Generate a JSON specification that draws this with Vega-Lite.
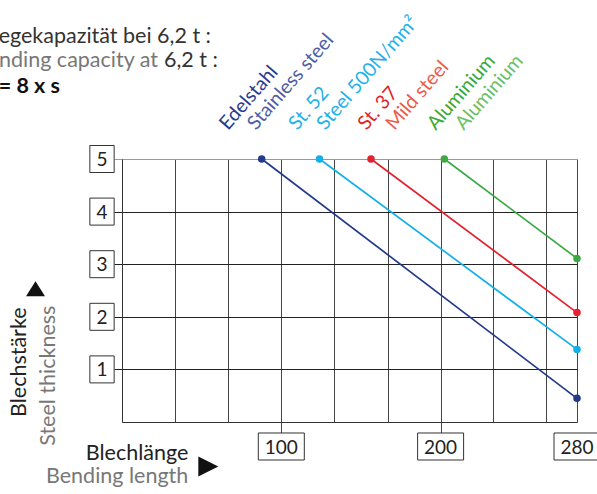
{
  "$schema": "https://vega.github.io/schema/vega-lite/v6.json",
  "width": 455,
  "height": 263,
  "autosize": {"type": "none"},
  "padding": {"left": 122, "top": 159, "right": 20, "bottom": 72},
  "config": {"view": {"stroke": null}, "font": "Lato", "text": {"font": "Lato"}},
  "datasets": {
    "lines": [
      {"material": "Edelstahl", "length": 87.7, "thickness": 5},
      {"material": "Edelstahl", "length": 280, "thickness": 0.45},
      {"material": "St. 52", "length": 124, "thickness": 5},
      {"material": "St. 52", "length": 280, "thickness": 1.38},
      {"material": "St. 37", "length": 156.3, "thickness": 5},
      {"material": "St. 37", "length": 280, "thickness": 2.08},
      {"material": "Aluminium", "length": 202.2, "thickness": 5},
      {"material": "Aluminium", "length": 280, "thickness": 3.11}
    ],
    "labels": [
      {"material": "Edelstahl", "de": "Edelstahl", "en": "Stainless steel"},
      {"material": "St. 52", "de": "St. 52", "en": "Steel 500N/mm²"},
      {"material": "St. 37", "de": "St. 37", "en": "Mild steel"},
      {"material": "Aluminium", "de": "Aluminium", "en": "Aluminium"}
    ],
    "yticks": [{"v": 1}, {"v": 2}, {"v": 3}, {"v": 4}, {"v": 5}],
    "xticks": [{"v": 100}, {"v": 200}, {"v": 280}]
  },
  "layer": [
    {
      "layer": [
        {
          "data": {"name": "lines"},
          "mark": {"type": "line", "strokeWidth": 1.7},
          "encoding": {
            "x": {
              "field": "length", "type": "quantitative",
              "scale": {"domain": [0, 200, 280], "range": [0, 318.6, 455], "nice": false, "zero": false},
              "axis": {
                "values": [0, 33.3, 66.7, 100, 133.3, 166.7, 200, 231, 262, 280],
                "grid": true, "gridColor": "#444", "gridWidth": 1, "gridOpacity": 1,
                "labels": false, "title": null, "tickSize": 11, "tickWidth": 1,
                "tickColor": {"condition": {"test": "datum.value == 100 || datum.value == 200", "value": "#444"}, "value": "rgba(0,0,0,0)"},
                "domainColor": "#333", "domainWidth": 1
              }
            },
            "y": {
              "field": "thickness", "type": "quantitative",
              "scale": {"domain": [0, 5], "nice": false},
              "axis": {
                "values": [1, 2, 3, 4, 5],
                "grid": true, "gridWidth": 1, "gridOpacity": 1,
                "gridColor": {"condition": {"test": "datum.value == 5", "value": "#999"}, "value": "#222"},
                "labels": false, "title": null, "tickSize": 8, "tickWidth": 1,
                "tickColor": {"condition": {"test": "datum.value == 5", "value": "#999"}, "value": "#222"},
                "domainColor": "#333", "domainWidth": 1
              }
            },
            "color": {
              "field": "material", "type": "nominal",
              "scale": {"domain": ["Edelstahl", "St. 52", "St. 37", "Aluminium"], "range": ["#233a8b", "#14afe9", "#e32230", "#3ea843"]},
              "legend": null
            },
            "detail": {"field": "material"}
          }
        },
        {
          "data": {"name": "lines"},
          "mark": {"type": "point", "filled": true, "size": 56, "opacity": 1, "shape": "circle"},
          "encoding": {
            "x": {"field": "length", "type": "quantitative"},
            "y": {"field": "thickness", "type": "quantitative"},
            "color": {"field": "material", "type": "nominal"}
          }
        },
        {
          "data": {"name": "yticks"},
          "mark": {"type": "point", "shape": "M-0.9,-1L0.9,-1L0.9,1L-0.9,1Z", "size": 729, "filled": true, "fill": "white", "stroke": "#333", "strokeWidth": 1, "opacity": 1, "xOffset": -20},
          "encoding": {"x": {"datum": 0}, "y": {"field": "v", "type": "quantitative"}}
        },
        {
          "data": {"name": "yticks"},
          "mark": {"type": "text", "fontSize": 19, "color": "#222", "align": "center", "baseline": "middle", "xOffset": -20, "yOffset": 1},
          "encoding": {"x": {"datum": 0}, "y": {"field": "v", "type": "quantitative"}, "text": {"field": "v"}}
        },
        {
          "data": {"name": "xticks"},
          "mark": {"type": "point", "shape": "M-1,-0.587L1,-0.587L1,0.587L-1,0.587Z", "size": 2116, "filled": true, "fill": "white", "stroke": "#333", "strokeWidth": 1, "opacity": 1, "yOffset": 24.5},
          "encoding": {"x": {"field": "v", "type": "quantitative"}, "y": {"datum": 0}}
        },
        {
          "data": {"name": "xticks"},
          "mark": {"type": "text", "fontSize": 19, "color": "#222", "align": "center", "baseline": "middle", "yOffset": 25.5},
          "encoding": {"x": {"field": "v", "type": "quantitative"}, "y": {"datum": 0}, "text": {"field": "v"}}
        },
        {
          "data": {"values": [{"t": "Biegekapazität bei 6,2 t :"}]},
          "mark": {"type": "text", "fontSize": 21.5, "color": "#333", "align": "right", "baseline": "alphabetic", "xOffset": 89, "yOffset": -115.7},
          "encoding": {"x": {"datum": 0}, "y": {"datum": 5}, "text": {"field": "t"}}
        },
        {
          "data": {"values": [{"t": "Bending capacity at"}]},
          "mark": {"type": "text", "fontSize": 21.5, "color": "#777", "align": "right", "baseline": "alphabetic", "xOffset": 36, "yOffset": -91.7},
          "encoding": {"x": {"datum": 0}, "y": {"datum": 5}, "text": {"field": "t"}}
        },
        {
          "data": {"values": [{"t": "6,2 t :"}]},
          "mark": {"type": "text", "fontSize": 21.5, "color": "#333", "align": "left", "baseline": "alphabetic", "xOffset": 42, "yOffset": -91.7},
          "encoding": {"x": {"datum": 0}, "y": {"datum": 5}, "text": {"field": "t"}}
        },
        {
          "data": {"values": [{"t": "V = 8 x s"}]},
          "mark": {"type": "text", "fontSize": 21.5, "fontWeight": "bold", "color": "#111", "align": "right", "baseline": "alphabetic", "xOffset": -62, "yOffset": -65.7},
          "encoding": {"x": {"datum": 0}, "y": {"datum": 5}, "text": {"field": "t"}}
        },
        {
          "data": {"values": [{"t": "Blechlänge"}]},
          "mark": {"type": "text", "fontSize": 21.5, "color": "#222", "align": "right", "baseline": "alphabetic", "xOffset": 66.3, "yOffset": 37.7},
          "encoding": {"x": {"datum": 0}, "y": {"datum": 0}, "text": {"field": "t"}}
        },
        {
          "data": {"values": [{"t": "Bending length"}]},
          "mark": {"type": "text", "fontSize": 21.5, "color": "#777", "align": "right", "baseline": "alphabetic", "xOffset": 66.3, "yOffset": 61},
          "encoding": {"x": {"datum": 0}, "y": {"datum": 0}, "text": {"field": "t"}}
        },
        {
          "data": {"values": [{"t": "Blechstärke"}]},
          "mark": {"type": "text", "fontSize": 21.5, "color": "#222", "angle": 270, "align": "center", "baseline": "alphabetic", "xOffset": -96, "yOffset": -59.8},
          "encoding": {"x": {"datum": 0}, "y": {"datum": 0}, "text": {"field": "t"}}
        },
        {
          "data": {"values": [{"t": "Steel thickness"}]},
          "mark": {"type": "text", "fontSize": 21.5, "color": "#777", "angle": 270, "align": "center", "baseline": "alphabetic", "xOffset": -67, "yOffset": -46.3},
          "encoding": {"x": {"datum": 0}, "y": {"datum": 0}, "text": {"field": "t"}}
        },
        {
          "data": {"values": [{"axis": "Blechlänge"}]},
          "mark": {"type": "point", "shape": "M-1,-1L1,0L-1,1Z", "size": 400, "filled": true, "fill": "#111", "strokeWidth": 0, "opacity": 1, "xOffset": 86.3, "yOffset": 44.4},
          "encoding": {"x": {"datum": 0}, "y": {"datum": 0}}
        },
        {
          "data": {"values": [{"axis": "Blechstärke"}]},
          "mark": {"type": "point", "shape": "M0,-0.79L1,0.79L-1,0.79Z", "size": 361, "filled": true, "fill": "#111", "strokeWidth": 0, "opacity": 1, "xOffset": -86.5, "yOffset": -133.3},
          "encoding": {"x": {"datum": 0}, "y": {"datum": 0}}
        }
      ]
    },
    {
      "data": {"name": "labels"},
      "encoding": {
        "x": {
          "field": "material", "type": "ordinal",
          "scale": {"type": "point", "domain": ["Edelstahl", "St. 52", "St. 37", "Aluminium"], "range": [106, 313.7], "padding": 0},
          "axis": null
        },
        "y": {"datum": 5}
      },
      "layer": [
        {
          "mark": {"type": "text", "fontSize": 19.5, "angle": 311, "align": "left", "baseline": "alphabetic", "yOffset": -28},
          "encoding": {
            "text": {"field": "de"},
            "color": {"field": "material", "type": "nominal", "scale": {"domain": ["Edelstahl", "St. 52", "St. 37", "Aluminium"], "range": ["#2a3b8f", "#1fb1ea", "#e11f2d", "#3aa935"]}, "legend": null}
          }
        },
        {
          "mark": {"type": "text", "fontSize": 19.5, "angle": 311, "align": "left", "baseline": "alphabetic", "xOffset": 28, "yOffset": -28},
          "encoding": {
            "text": {"field": "en"},
            "color": {"field": "en", "type": "nominal", "scale": {"domain": ["Stainless steel", "Steel 500N/mm²", "Mild steel", "Aluminium"], "range": ["#4d5ea5", "#1fb1ea", "#ee5b4b", "#6cbf62"]}, "legend": null}
          }
        }
      ],
      "resolve": {"scale": {"color": "independent"}}
    }
  ],
  "resolve": {"scale": {"x": "independent", "color": "independent"}}
}
